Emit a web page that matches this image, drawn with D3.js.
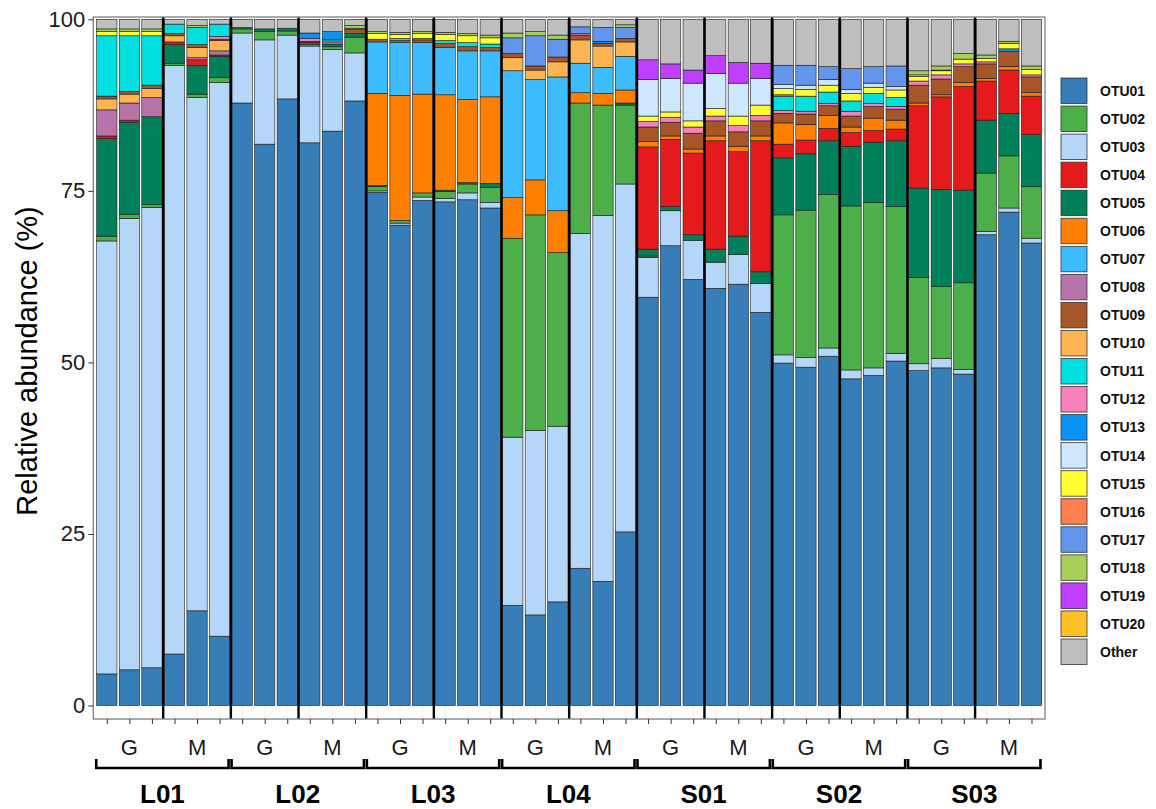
<!DOCTYPE html>
<html><head><meta charset="utf-8">
<script src="https://cdn.jsdelivr.net/npm/d3@7"></script>
<style>body{margin:0;background:#fff;} svg{display:block;font-family:"Liberation Sans",Arial,Helvetica,sans-serif;}</style>
</head><body><svg id="c" width="1156" height="809"></svg>
<script>
const sites = ["L01","L02","L03","L04","S01","S02","S03"];
const tissues = ["G","M"];
const reps = [1,2,3];
const otuNames = ["OTU01","OTU02","OTU03","OTU04","OTU05","OTU06","OTU07","OTU08","OTU09","OTU10","OTU11","OTU12","OTU13","OTU14","OTU15","OTU16","OTU17","OTU18","OTU19","OTU20","Other"];
const otuColors = ["#377EB8","#4DAF4A","#B3D6F9","#E41A1C","#00805A","#FF7F00","#3DBDFF","#B874A8","#A65628","#FDB553","#00E0E0","#F781BF","#0A93F5","#CCE7FF","#FFFF33","#FF7F50","#6495ED","#A6D05A","#BF3EFF","#FFC125","#BEBEBE"];
const stackOrder = ["OTU01","OTU03","OTU02","OTU05","OTU04","OTU06","OTU07","OTU08","OTU10","OTU09","OTU12","OTU11","OTU13","OTU16","OTU15","OTU14","OTU19","OTU17","OTU18","OTU20","Other"];
const yTicks = [0,25,50,75,100];

const OTU01 = [4.6,5.2,5.5,7.5,13.8,10.1, 87.8,81.8,88.4,82.0,83.7,88.1, 74.8,70.0,73.6,73.4,73.7,72.5, 14.6,13.2,15.1,20.0,18.1,25.3, 59.5,67.0,62.1,60.8,61.4,57.3, 49.9,49.3,50.9,47.6,48.1,50.2, 48.8,49.2,48.3,68.6,71.9,67.4];
const OTU02 = [0.7,0.6,0.4,0.3,0.5,0.7, 0.6,1.2,0.6,0.2,0.4,2.3, 0.6,0.4,0.6,1.0,1.3,2.2, 29.0,31.4,25.3,19.0,16.1,11.5, 0.2,0,0,0,0,0, 20.4,21.5,22.4,23.9,24.1,21.4, 12.6,10.5,12.6,8.5,7.6,7.5];
const OTU03 = [63.1,65.8,67.1,85.8,74.8,80.7, 10.2,15.2,9.3,14.1,11.9,7.0, 0.2,0.3,0.5,0.5,1.0,0.8, 24.5,26.9,25.6,48.8,53.3,50.7, 5.8,5.1,5.7,3.8,4.3,4.2, 1.2,1.4,1.2,1.3,1.1,1.1, 1.0,1.4,0.7,0.5,0.6,0.7];
const OTU04 = [0.4,0.3,0,0.4,0.8,0.2, 0,0,0,0.2,0,0, 0,0,0,0,0,0, 0,0,0,0,0,0, 14.9,9.8,11.9,15.8,12.3,19.1, 2.0,2.0,1.8,2.0,1.7,1.7, 12.0,13.5,15.1,5.7,6.3,5.6];
const OTU05 = [14.2,13.4,12.8,2.7,4.2,3.1, 0.2,0.4,0.4,0.3,0.4,0.5, 0.2,0,0,0.2,0.2,0.6, 0,0,0,0,0,0.3, 1.0,0.6,0.8,1.9,2.7,1.7, 8.3,8.2,7.8,8.7,8.8,9.6, 13.0,14.1,13.5,7.7,6.2,7.6];
const OTU06 = [0,0,0,0,0,0, 0,0,0,0,0,0, 13.4,18.2,14.4,13.9,12.1,12.6, 5.9,5.1,6.1,1.5,1.7,1.9, 0.8,0.5,0.6,0.7,0.8,0.7, 3.1,2.3,1.9,0.8,1.8,1.3, 0.4,0.3,0.6,0.4,0.5,0.5];
const OTU07 = [0,0,0,0,0,0, 0,0,0,0,0,0, 7.5,7.7,7.5,6.9,7.1,6.7, 18.5,14.6,19.5,4.3,3.8,4.9, 0,0,0,0,0,0, 0,0,0,0,0,0, 0,0,0,0,0,0];
const OTU08 = [3.8,2.5,2.8,0,0.3,0.6, 0,0,0,0,0,0, 0,0,0,0,0,0, 0,0,0,0,0,0, 0,0,0,0,0,0, 0,0,0,0,0,0, 0,0,0,0,0,0];
const OTU09 = [0.4,0.4,0.5,0.3,0.4,0.2, 0,0,0,0,0,0.6, 0.4,0.3,0.4,0.6,0.6,0.5, 0.6,0.6,0.7,0.7,0.4,0.5, 2.1,2.0,2.3,2.2,2.1,2.2, 1.4,1.5,1.4,1.6,1.7,1.6, 2.6,2.3,2.3,2.1,2.2,2.3];
const OTU10 = [1.6,1.3,1.3,0.9,1.5,1.5, 0,0,0,0,0,0, 0,0,0,0,0,0, 1.9,1.4,2.2,3.4,3.1,2.1, 0,0,0,0,0,0, 0,0,0,0,0,0, 0,0,0,0,0,0];
const OTU11 = [8.8,8.1,7.2,1.4,2.5,1.8, 0,0,0,0,0.3,0.2, 0,0.3,0.2,0.4,0.6,0.5, 0,0,0,0,0,0, 0,0,0,0,0,0, 2.1,2.2,1.7,1.5,1.5,1.3, 0,0,0,0,0,0];
const OTU12 = [0,0,0,0,0,0.4, 0,0,0,0.4,0.3,0, 0,0,0,0,0,0, 0,0,0,0.2,0,0, 0.8,0.7,0.9,0.7,0.9,0.8, 0.4,0.4,0.3,0.7,0.4,0.4, 0.6,0.6,0.4,0.3,0,0.3];
const OTU13 = [0,0,0,0,0,0, 0,0,0,0.8,1.2,0, 0,0,0,0,0,0, 0,0,0,0,0.3,0, 0,0,0,0,0,0, 0,0,0,0,0,0, 0,0,0,0,0.4,0];
const OTU14 = [0,0,0,0,0,0, 0,0,0,0,0,0, 0,0,0,0,0,0, 0,0,0,0,0,0, 5.3,4.9,5.5,5.1,4.8,3.9, 0.6,0.6,0.8,0.6,0.6,0.5, 0.2,0.1,0,0,0,0];
const OTU15 = [0.6,0.6,0.6,0,0,0, 0,0,0,0,0,0, 0.8,0.6,0.7,0.9,1.0,0.9, 0,0,0,0,0,0, 0.8,0.8,0.9,1.1,1.4,1.5, 0.9,1.0,1.0,1.1,0.9,1.1, 0.7,0.6,0.7,0.5,0.8,0.8];
const OTU16 = [0,0,0,0,0,0, 0,0,0,0,0,0, 0,0,0,0,0,0, 0,0,0,0,0,0, 0,0,0,0,0,0, 0.2,0,0,0,0,0, 0,0,0,0,0,0];
const OTU17 = [0,0,0,0,0,0, 0,0,0,0,0,0, 0,0,0,0,0,0, 2.3,4.4,2.6,1.0,2.0,1.6, 0,0,0,0,0,0, 2.8,2.9,1.9,3.0,2.4,3.0, 0,0,0,0,0,0];
const OTU18 = [0.4,0.4,0.4,0,0.3,0, 0,0,0,0,0,0.4, 0.3,0.3,0.3,0.3,0.3,0.4, 0.7,0.6,0.6,0,0,0.4, 0,0,0,0,0,0, 0,0,0,0,0,0, 0.6,0.6,0.8,0.5,0.3,0.5];
const OTU19 = [0,0,0,0,0,0, 0,0,0,0,0,0, 0,0,0,0,0,0, 0,0,0,0,0,0, 2.9,2.1,1.9,2.6,3.0,2.2, 0,0,0,0,0,0, 0,0,0,0,0,0];
const OTU20 = [0,0,0,0,0,0, 0,0,0,0,0,0, 0,0,0,0,0,0, 0,0,0,0,0,0, 0,0,0,0,0,0, 0,0,0,0,0,0, 0,0,0,0,0,0];
const Other = [1.4,1.4,1.4,0.7,0.9,0.7, 1.2,1.4,1.3,2.0,1.8,0.9, 1.8,1.9,1.8,1.9,2.1,2.3, 2.0,1.8,2.3,1.1,1.2,0.8, 5.9,6.5,7.4,5.3,6.3,6.4, 6.7,6.7,6.9,7.2,6.9,6.8, 7.5,6.8,5.0,5.2,3.2,6.8];

const seriesData = {OTU01,OTU02,OTU03,OTU04,OTU05,OTU06,OTU07,OTU08,OTU09,OTU10,OTU11,OTU12,OTU13,OTU14,OTU15,OTU16,OTU17,OTU18,OTU19,OTU20,Other};

const samples = [];
sites.forEach(s => tissues.forEach(t => reps.forEach(r => samples.push({id: s+"_"+t+r, site: s, tissue: t, rep: r}))));
const rows = samples.map((s, i) => {
  const o = {id: s.id};
  otuNames.forEach(k => o[k] = seriesData[k][i]);
  return o;
});

const svg = d3.select("#c");
const P = {l: 93.3, r: 1045, t: 17, b: 719};
const x = d3.scalePoint().domain(samples.map(s => s.id)).range([P.l, P.r]).padding(0.6);
const step = x.step();
const bw = step * 0.9;
const y = d3.scaleLinear().domain([0, 100]).range([705.5, 19.3]);
const color = d3.scaleOrdinal().domain(otuNames).range(otuColors);

// gridlines
svg.append("g").selectAll("line").data(samples).join("line")
  .attr("x1", d => x(d.id)).attr("x2", d => x(d.id))
  .attr("y1", P.t).attr("y2", P.b)
  .attr("stroke", "#e6e6e6").attr("stroke-width", 0.6);

const stack = d3.stack().keys(stackOrder);
const series = stack(rows);
const gb = svg.append("g");
series.forEach(sr => {
  gb.append("g").attr("fill", color(sr.key))
    .selectAll("rect").data(sr.filter(d => d[1] - d[0] > 0)).join("rect")
    .attr("x", d => x(d.data.id) - bw / 2)
    .attr("width", bw)
    .attr("y", d => y(d[1]))
    .attr("height", d => y(d[0]) - y(d[1]))
    .attr("stroke", "#1a1a1a").attr("stroke-width", 0.6);
});

// separators
const seps = [];
for (let i = 3; i < samples.length; i += 3) seps.push((x(samples[i - 1].id) + x(samples[i].id)) / 2);
svg.append("g").selectAll("line").data(seps).join("line")
  .attr("x1", d => d).attr("x2", d => d).attr("y1", P.t).attr("y2", P.b)
  .attr("stroke", "#000").attr("stroke-width", 2.4);

// panel border
svg.append("rect").attr("x", P.l).attr("y", P.t).attr("width", P.r - P.l).attr("height", P.b - P.t)
  .attr("fill", "none").attr("stroke", "#7f7f7f").attr("stroke-width", 1.3);

// y axis
const ya = svg.append("g").attr("transform", `translate(${P.l},0)`)
  .call(d3.axisLeft(y).tickValues(yTicks).tickSize(5).tickPadding(3));
ya.select(".domain").remove();
ya.selectAll("line").attr("stroke", "#333");
ya.selectAll("text").attr("font-size", 22).attr("fill", "#1a1a1a").style("font-family", "Liberation Sans, Arial, sans-serif");

// x axis ticks
const xa = svg.append("g").attr("transform", `translate(0,${P.b})`)
  .call(d3.axisBottom(x).tickSize(5).tickFormat(""));
xa.select(".domain").remove();
xa.selectAll("line").attr("stroke", "#333");

// y title
svg.append("text").attr("transform", "translate(37,361) rotate(-90)")
  .attr("text-anchor", "middle").attr("font-size", 29).attr("fill", "#000")
  .text("Relative abundance (%)");

// tissue labels
const tissueLabs = samples.filter(s => s.rep === 2);
svg.append("g").selectAll("text").data(tissueLabs).join("text")
  .attr("x", d => x(d.id)).attr("y", 755).attr("text-anchor", "middle")
  .attr("font-size", 22).attr("fill", "#1a1a1a").text(d => d.tissue);

// brackets and site labels
const siteInfo = sites.map(s => {
  const ss = samples.filter(d => d.site === s);
  return {site: s, x1: x(ss[0].id) - 10.6, x2: x(ss[ss.length - 1].id) + 9};
});
const gs = svg.append("g");
siteInfo.forEach(si => {
  gs.append("path")
    .attr("d", `M${si.x1},759 V768 H${si.x2} V759`)
    .attr("fill", "none").attr("stroke", "#000").attr("stroke-width", 2.6);
  gs.append("text").attr("x", (si.x1 + si.x2) / 2).attr("y", 803)
    .attr("text-anchor", "middle").attr("font-size", 26).attr("font-weight", "bold")
    .text(si.site);
});

// legend
const lg = svg.append("g").attr("transform", "translate(1061,78)");
otuNames.forEach((k, i) => {
  const g = lg.append("g").attr("transform", `translate(0,${i * 28.05})`);
  g.append("rect").attr("width", 26).attr("height", 25.5).attr("fill", color(k))
    .attr("stroke", "#333").attr("stroke-width", 0.8);
  g.append("text").attr("x", 39).attr("y", 13).attr("dy", "0.35em")
    .attr("font-size", 14).attr("font-weight", "bold").attr("fill", "#111").text(k);
});
</script></body></html>
